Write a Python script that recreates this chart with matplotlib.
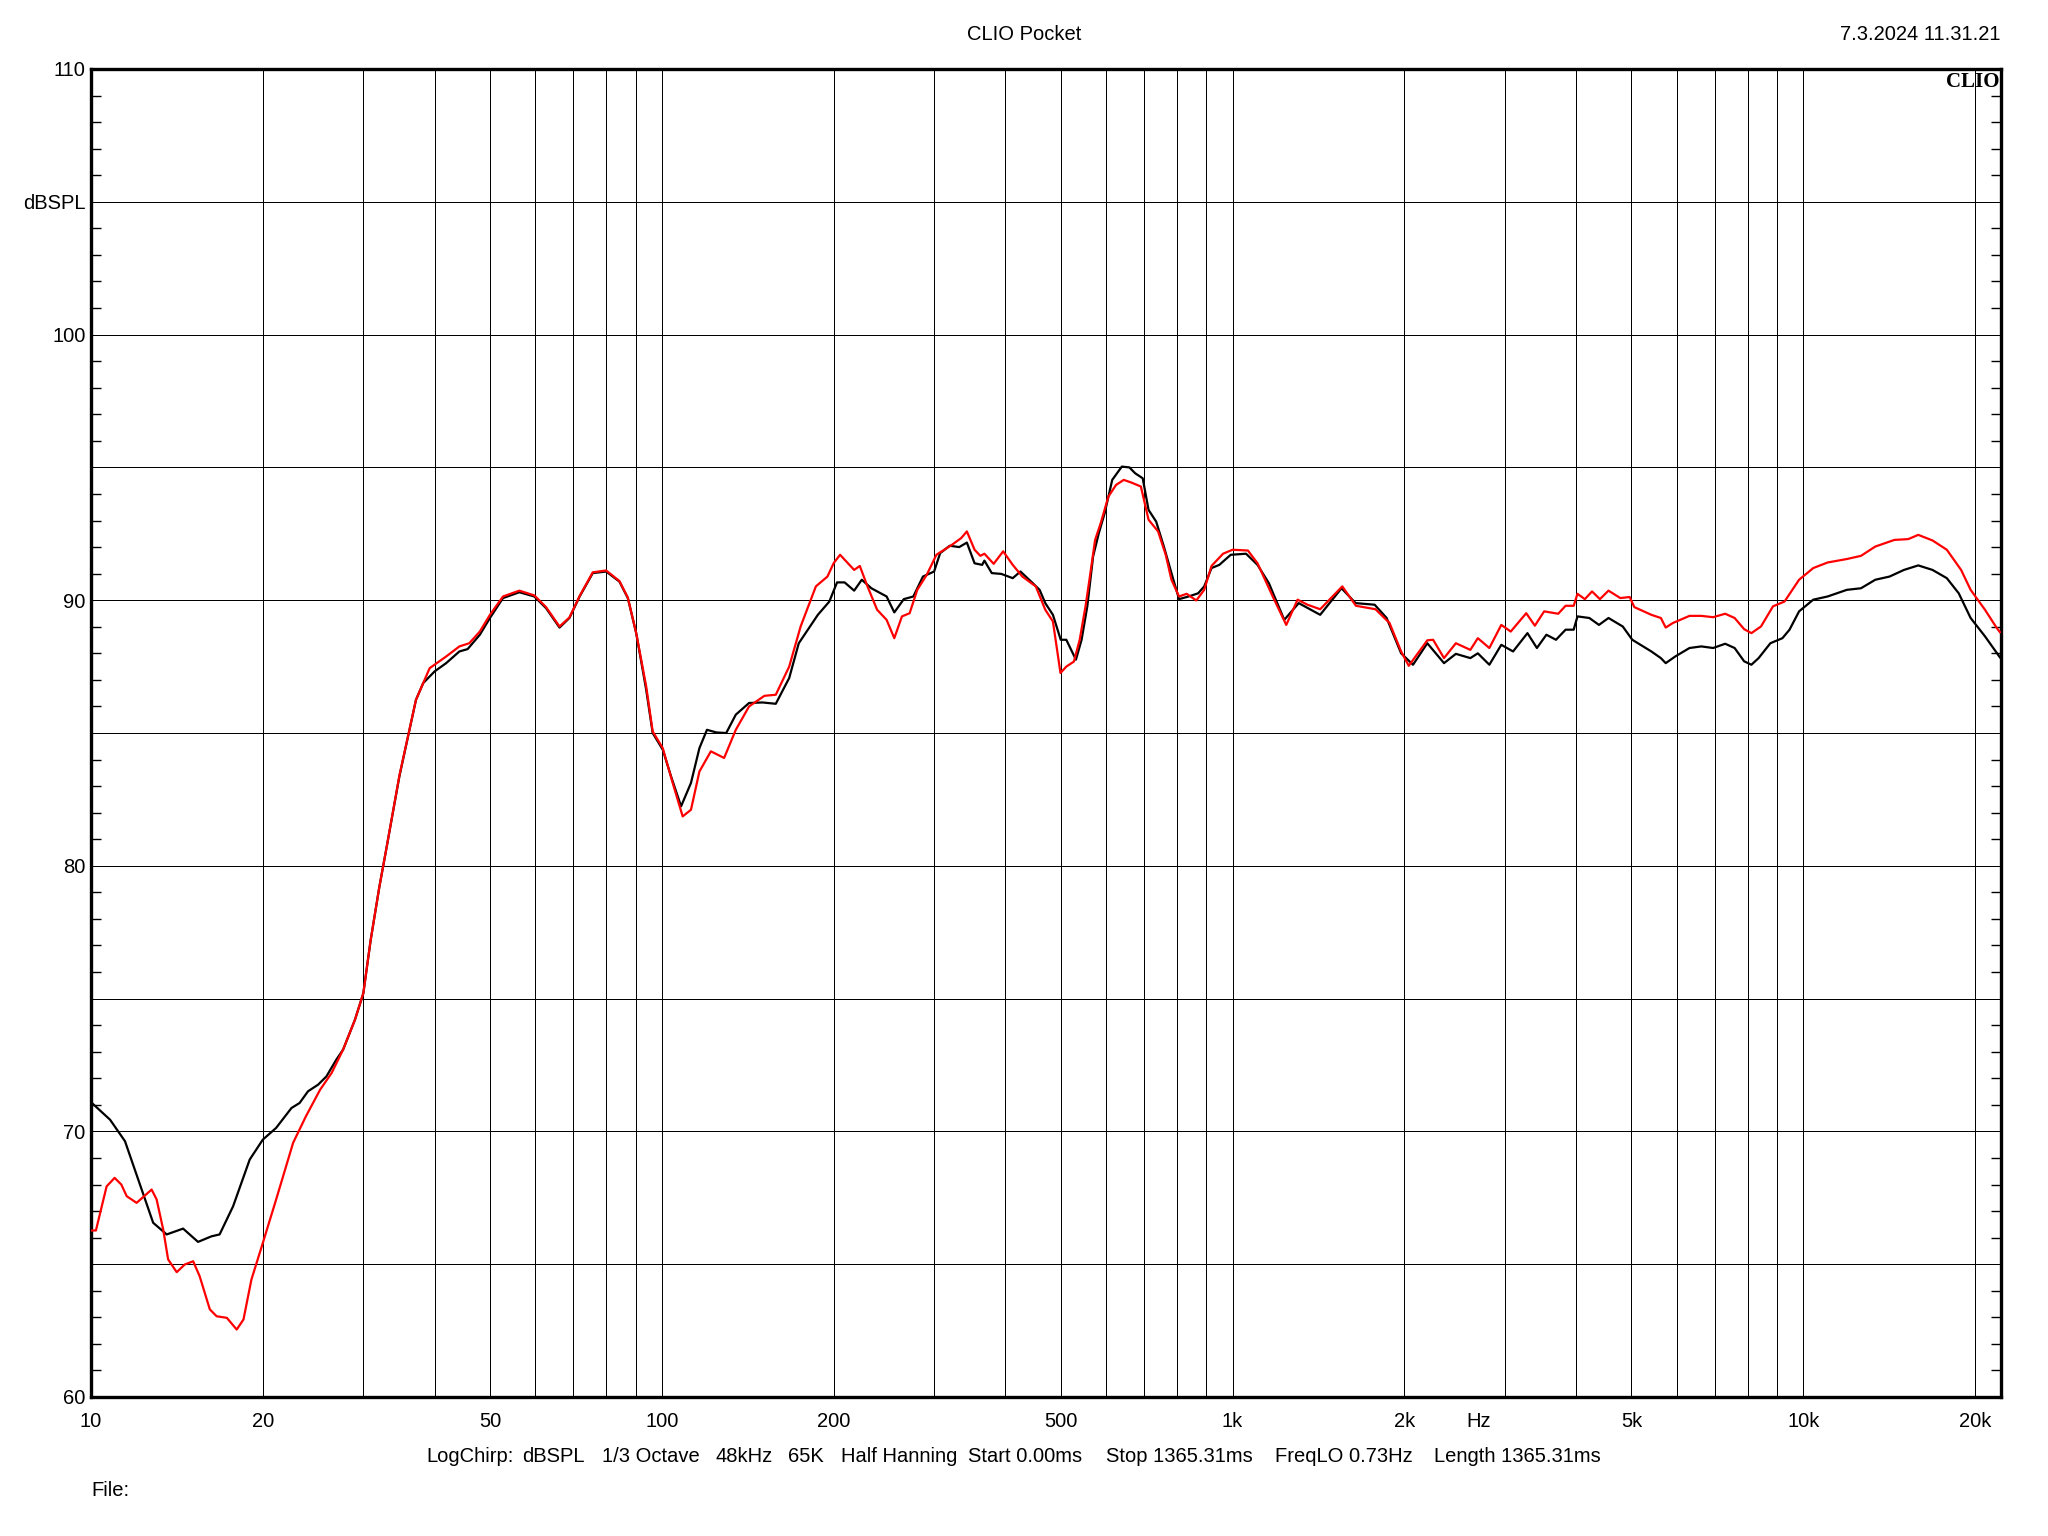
import numpy as np
import matplotlib
matplotlib.use("Agg")
import matplotlib.pyplot as plt
from matplotlib.ticker import MultipleLocator, NullLocator

plt.rcParams['font.family'] = ['Liberation Sans', 'DejaVu Sans']

# black trace (freq Hz, dBSPL)
black_f = [10, 10.8, 11.47, 12.1, 12.85, 13.57, 14.5, 15.4, 16.26, 16.8, 17.74, 18.97, 20.0, 21.1,
           22.45, 23.2, 24.0, 25.0, 25.85, 26.9, 27.65, 29.0, 30.0, 30.9, 32.0, 32.9, 34.7, 37.1,
           38.2, 40.0, 41.9, 44.2, 45.7, 48.0, 50.0, 52.7, 56.3, 59.8, 62.7, 66.2, 68.9, 71.8,
           75.7, 79.9, 84.3, 87.2, 90.2, 93.9, 96.4, 100.4, 103.8, 108.1, 112.5, 116.4, 120,
           124.7, 129.7, 134.8, 142.2, 150.1, 158.4, 167.2, 173.8, 187.7, 196.6, 202.8, 209.1,
           217.3, 224.1, 232.9, 247.7, 255.5, 265.5, 275.9, 286.8, 300, 307.4, 319.5, 332,
           342.4, 353.2, 364.2, 367.5, 378.6, 393.4, 412, 425, 445.3, 459.2, 469.8, 484.5, 500,
           511.4, 531.6, 543.9, 556.6, 569.8, 583, 597, 615.5, 639.7, 659.6, 675, 696, 712.6,
           734.8, 758, 781.6, 805.9, 837.6, 870.5, 892, 918.7, 948, 992.7, 1056, 1106, 1158,
           1232, 1306, 1424, 1552, 1643, 1774, 1862, 1974, 2071, 2194, 2347, 2462, 2610, 2690,
           2818, 2957, 3101, 3286, 3414, 3547, 3687, 3833, 3960, 4021, 4218, 4385, 4557, 4827,
           5016, 5417, 5629, 5740, 5964, 6318, 6626, 6951, 7296, 7580, 7876, 8110, 8350, 8756,
           9192, 9459, 9831, 10410, 11030, 11920, 12620, 13370, 14160, 15010, 15900, 16840,
           17840, 18720, 19640, 20810, 21830, 22100]
black_db = [71.1, 70.44, 69.63, 68.19, 66.56, 66.12, 66.34, 65.84, 66.05, 66.12, 67.18, 68.94,
            69.69, 70.13, 70.88, 71.07, 71.51, 71.76, 72.07, 72.7, 73.08, 74.2, 75.2, 77.2, 79.2,
            80.61, 83.37, 86.25, 86.88, 87.32, 87.63, 88.07, 88.16, 88.7, 89.33, 90.08, 90.30,
            90.14, 89.70, 88.97, 89.33, 90.14, 91.02, 91.08, 90.70, 90.08, 88.76, 86.63, 85.0,
            84.37, 83.37, 82.24, 83.12, 84.43, 85.12, 85.02, 85.0, 85.69, 86.13, 86.15, 86.10,
            87.07, 88.38, 89.45, 89.95, 90.67, 90.67, 90.36, 90.77, 90.45, 90.14, 89.54, 90.04,
            90.14, 90.89, 91.08, 91.77, 92.05, 92.0, 92.17, 91.39, 91.33, 91.49, 91.02, 90.99,
            90.83, 91.08, 90.67, 90.39, 89.89, 89.45, 88.51, 88.51, 87.76, 88.51, 89.77, 91.65,
            92.52, 93.28, 94.53, 95.03, 95.0, 94.78, 94.59, 93.40, 92.96, 92.02, 91.02, 90.04,
            90.14, 90.26, 90.52, 91.21, 91.33, 91.71, 91.75, 91.33, 90.64, 89.26, 89.89, 89.45,
            90.45, 89.89, 89.83, 89.33, 88.0, 87.57, 88.38, 87.63, 87.98, 87.82, 88.0, 87.57,
            88.32, 88.07, 88.76, 88.2, 88.7, 88.51, 88.89, 88.89, 89.39, 89.33, 89.07, 89.33,
            89.01, 88.51, 88.07, 87.82, 87.63, 87.88, 88.2, 88.26, 88.2, 88.36, 88.2, 87.7,
            87.57, 87.82, 88.38, 88.57, 88.89, 89.58, 90.02, 90.14, 90.39, 90.45, 90.77, 90.89,
            91.14, 91.31, 91.14, 90.83, 90.26, 89.33, 88.64, 88.01, 87.85]

# red trace (freq Hz, dBSPL)
red_f = [10, 10.2, 10.65, 11.0, 11.3, 11.55, 12.02, 12.77, 13.03, 13.38, 13.65, 14.13, 14.6, 15.1,
         15.5, 16.15, 16.6, 17.3, 18.0, 18.5, 19.1, 20.0, 21.1, 22.6, 23.8, 25.2, 26.4, 27.65,
         29.0, 30.0, 30.9, 32.0, 32.9, 34.7, 37.1, 39.2, 41.9, 44.2, 46.0, 48.0, 50, 52.7, 56.3,
         59.8, 62.7, 66.2, 68.9, 71.8, 75.7, 79.9, 84.3, 87.2, 90.2, 93.9, 96.4, 100.4, 104.5,
         108.8, 112.5, 116.4, 121.9, 128.6, 134.8, 142.2, 151.3, 158.4, 167.2, 175.1, 186.2,
         195.1, 200, 205.3, 217.3, 222.3, 229.3, 238.4, 247.7, 255.5, 263.5, 271.8, 280.3,
         291.3, 302.8, 322.1, 334.7, 342.4, 353.2, 361.5, 367.5, 381.5, 396.4, 412, 428.3,
         452.1, 469.8, 484.5, 499.5, 511.4, 527.3, 539.8, 552.6, 561.4, 574.4, 587.5, 606, 625,
         644.8, 664.8, 690.9, 712.6, 740.5, 763.7, 781.6, 805.9, 831, 864, 892, 918.7, 962.5,
         1000, 1064, 1106, 1176, 1242, 1300, 1353, 1424, 1557, 1645, 1780, 1884, 1974, 2036,
         2194, 2246, 2347, 2462, 2610, 2690, 2818, 2957, 3072, 3270, 3386, 3515, 3720, 3833,
         3960, 4021, 4142, 4264, 4402, 4557, 4780, 4963, 5057, 5417, 5629, 5740, 5907, 6318,
         6626, 6951, 7296, 7580, 7876, 8110, 8430, 8850, 9270, 9831, 10410, 11030, 11920,
         12620, 13370, 14440, 15270, 15900, 16840, 17840, 18900, 19640, 20810, 21830, 22100]
red_db = [66.27, 66.27, 67.93, 68.25, 68.0, 67.56, 67.31, 67.81, 67.44, 66.31, 65.18, 64.7, 64.99,
          65.11, 64.55, 63.3, 63.04, 62.98, 62.54, 62.92, 64.42, 65.8, 67.43, 69.57, 70.57,
          71.57, 72.2, 73.08, 74.2, 75.2, 77.2, 79.2, 80.61, 83.4, 86.25, 87.44, 87.88, 88.26,
          88.38, 88.82, 89.45, 90.14, 90.36, 90.18, 89.74, 89.01, 89.35, 90.16, 91.05, 91.12,
          90.72, 90.1, 88.76, 86.76, 85.06, 84.43, 83.12, 81.86, 82.11, 83.55, 84.31, 84.06,
          85.12, 86.0, 86.40, 86.44, 87.50, 89.01, 90.52, 90.89, 91.39, 91.71, 91.14, 91.29,
          90.52, 89.64, 89.26, 88.57, 89.39, 89.51, 90.39, 90.96, 91.71, 92.08, 92.34, 92.59,
          91.90, 91.67, 91.75, 91.37, 91.84, 91.33, 90.89, 90.52, 89.64, 89.20, 87.26, 87.50,
          87.69, 88.51, 89.77, 90.77, 92.27, 92.90, 93.90, 94.34, 94.53, 94.43, 94.28, 93.03,
          92.59, 91.71, 90.77, 90.14, 90.24, 89.99, 90.39, 91.29, 91.75, 91.90, 91.87, 91.39,
          90.14, 89.07, 90.02, 89.83, 89.66, 90.52, 89.79, 89.66, 89.14, 88.07, 87.53, 88.49,
          88.51, 87.82, 88.38, 88.13, 88.57, 88.2, 89.07, 88.82, 89.51, 89.04, 89.58, 89.49,
          89.79, 89.79, 90.24, 90.04, 90.33, 90.04, 90.36, 90.08, 90.12, 89.74, 89.45, 89.33,
          88.97, 89.14, 89.41, 89.41, 89.36, 89.49, 89.33, 88.91, 88.76, 89.01, 89.77, 89.95,
          90.77, 91.21, 91.42, 91.55, 91.67, 92.02, 92.27, 92.30, 92.46, 92.25, 91.90, 91.14,
          90.39, 89.64, 88.95, 88.8]

# axis labels / grid
x_label_f = [10, 20, 50, 100, 200, 500, 1000, 2000, 2700, 5000, 10000, 20000]
x_labels = ['10', '20', '50', '100', '200', '500', '1k', '2k', 'Hz', '5k', '10k', '20k']
x_grid = [m * d for d in (10, 100, 1000) for m in range(1, 10)] + [10000, 20000]
y_ticks = [60, 65, 70, 75, 80, 85, 90, 95, 100, 105, 110]
y_labels = ['60', '', '70', '', '80', '', '90', '', '100', 'dBSPL', '110']

title = 'CLIO Pocket'
stamp = '7.3.2024 11.31.21'
info = ['LogChirp:', 'dBSPL', '1/3 Octave', '48kHz', '65K', 'Half Hanning', 'Start 0.00ms',
        'Stop 1365.31ms', 'FreqLO 0.73Hz', 'Length 1365.31ms']
info_x = [426, 522, 602, 716, 788, 841, 968, 1106, 1275, 1434]  # pixel lefts

W, H = 2048, 1536
fig = plt.figure(figsize=(W / 100, H / 100), dpi=100)
ax = fig.add_axes([91 / W, 1 - 1397 / H, (2001 - 91) / W, (1397 - 69) / H])

ax.set_xscale('log')
ax.set_xlim(10, 22200)
ax.set_ylim(60, 110)

for f in x_grid[1:]:
    ax.axvline(f, color='black', lw=0.72, zorder=1, antialiased=False)
for v in y_ticks[1:-1]:
    ax.axhline(v, color='black', lw=0.72, zorder=1, antialiased=False)

ax.plot(black_f, black_db, color='black', lw=1.6, zorder=3)
ax.plot(red_f, red_db, color='#ff0000', lw=1.6, zorder=4)

ax.set_xticks(x_label_f)
ax.set_xticklabels(x_labels)
ax.xaxis.set_minor_locator(NullLocator())
ax.tick_params(axis='x', length=0, pad=11, labelsize=14.5)

ax.set_yticks(y_ticks)
ax.set_yticklabels(y_labels)
ax.yaxis.set_minor_locator(MultipleLocator(1))
ax.tick_params(axis='y', which='major', length=0, pad=4, labelsize=14.5)
ax.tick_params(axis='y', which='minor', direction='in', length=7.5, width=1,
               left=True, right=True)

for s in ax.spines.values():
    s.set_linewidth(2.4)

fig.text(0.5, 1 - 35 / H, title, ha='center', va='center', fontsize=14.5)
fig.text(2001 / W, 1 - 35 / H, stamp, ha='right', va='center', fontsize=14.5)
ax.text(0.999, 0.998, 'CLIO', transform=ax.transAxes, ha='right', va='top',
        family='Liberation Serif', weight='bold', fontsize=15, zorder=5)

for t, px in zip(info, info_x):
    fig.text(px / W, 1 - 1457 / H, t, ha='left', va='center', fontsize=14.5)
fig.text(91 / W, 1 - 1491 / H, 'File:', ha='left', va='center', fontsize=14.5)

fig.savefig('out.png', dpi=100)
